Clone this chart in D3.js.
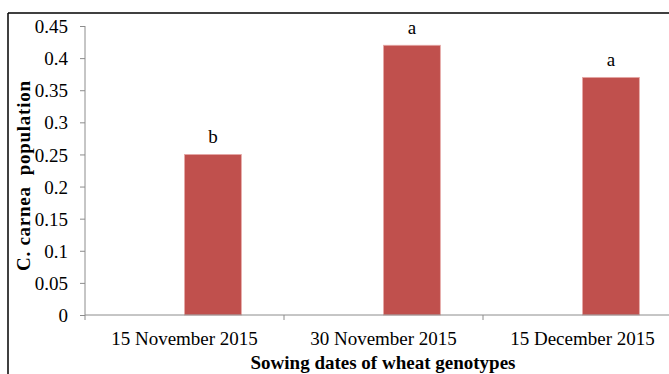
<!DOCTYPE html>
<html>
<head>
<meta charset="utf-8">
<script src="https://cdn.jsdelivr.net/npm/d3@7"></script>
<style>
  html, body { margin: 0; padding: 0; background: #fff; }
  svg { display: block; }
</style>
</head>
<body>
<svg id="chart" width="669" height="374"></svg>
<script>
// Sowing dates and mean C. carnea population per date
const categories = ["15 November 2015", "30 November 2015", "15 December 2015"];
const populations = [0.25, 0.42, 0.37];
const letters = ["b", "a", "a"];
const yTicks = [0, 0.05, 0.1, 0.15, 0.2, 0.25, 0.3, 0.35, 0.4, 0.45];

const FONT = 19;
const SERIF = "'Liberation Serif', 'Times New Roman', serif";
const svg = d3.select("#chart");

// Outer frame (left and top edges)
svg.append("line").attr("x1", 8).attr("y1", 13).attr("x2", 8).attr("y2", 374)
  .attr("stroke", "#000").attr("stroke-width", 1.5);
svg.append("line").attr("x1", 8).attr("y1", 13).attr("x2", 669).attr("y2", 13)
  .attr("stroke", "#000").attr("stroke-width", 1.5);

const plotLeft = 85, plotRight = 682, plotTop = 26, plotBottom = 315;

const x = d3.scaleBand().domain(categories).range([plotLeft, plotRight]);
// two slots per category; the values sit in the second slot
const slot = d3.scaleBand().domain([0, 1]).range([0, x.bandwidth()])
  .paddingInner(0).paddingOuter(0.75);
const y = d3.scaleLinear().domain([0, 0.45]).range([plotBottom, plotTop]);

// Bars
svg.append("g").selectAll("rect").data(categories).join("rect")
  .attr("x", (d) => x(d) + slot(1))
  .attr("y", (d, i) => y(populations[i]))
  .attr("width", slot.bandwidth())
  .attr("height", (d, i) => y(0) - y(populations[i]))
  .attr("fill", "#C0504D")
  .attr("stroke", "#E6A9A7").attr("stroke-width", 0.8);

// Significance letters
svg.append("g").selectAll("text").data(categories).join("text")
  .attr("x", (d) => x(d) + slot(1) + slot.bandwidth() / 2)
  .attr("y", (d, i) => y(populations[i]) - 11)
  .attr("text-anchor", "middle")
  .style("font-family", SERIF).style("font-size", FONT + "px")
  .attr("fill", "#000")
  .text((d, i) => letters[i]);

// Y axis
const yAxis = svg.append("g").attr("transform", `translate(${plotLeft},0)`)
  .call(d3.axisLeft(y).tickValues(yTicks).tickSize(5).tickPadding(12)
    .tickFormat((d) => d3.format("")(+d.toFixed(2))));
yAxis.attr("font-family", null);
yAxis.select(".domain").attr("stroke", "#8c8c8c").attr("d", `M0,${plotTop}V${plotBottom}`);
yAxis.selectAll(".tick line").attr("stroke", "#8c8c8c");
yAxis.selectAll(".tick text")
  .style("font-family", SERIF).style("font-size", FONT + "px")
  .attr("fill", "#000").attr("dy", "0.35em");

// X axis
const xAxis = svg.append("g").attr("transform", `translate(0,${plotBottom})`)
  .call(d3.axisBottom(x).tickSize(0).tickPadding(0));
xAxis.attr("font-family", null);
xAxis.select(".domain").attr("stroke", "#8c8c8c").attr("d", `M${plotLeft},0H${plotRight}`);
xAxis.selectAll(".tick text")
  .style("font-family", SERIF).style("font-size", FONT + "px")
  .attr("fill", "#000").attr("y", 30).attr("dy", 0);
// category boundary ticks
xAxis.append("g").selectAll("line")
  .data([...categories.map((c) => x(c)), plotRight]).join("line")
  .attr("x1", (d) => d).attr("x2", (d) => d)
  .attr("y1", 0).attr("y2", 5)
  .attr("stroke", "#8c8c8c");

// Axis titles
svg.append("text")
  .attr("x", 383).attr("y", 369)
  .attr("text-anchor", "middle")
  .style("font-family", SERIF).style("font-size", FONT + "px")
  .attr("font-weight", "bold")
  .attr("fill", "#000")
  .text("Sowing dates of wheat genotypes");

svg.append("text")
  .attr("transform", "translate(30,176) rotate(-90)")
  .attr("text-anchor", "middle")
  .style("font-family", SERIF).style("font-size", FONT + "px")
  .attr("font-weight", "bold")
  .attr("fill", "#000")
  .style("white-space", "pre")
  .attr("textLength", 190).attr("lengthAdjust", "spacing")
  .text("C. carnea  population");
</script>
</body>
</html>
